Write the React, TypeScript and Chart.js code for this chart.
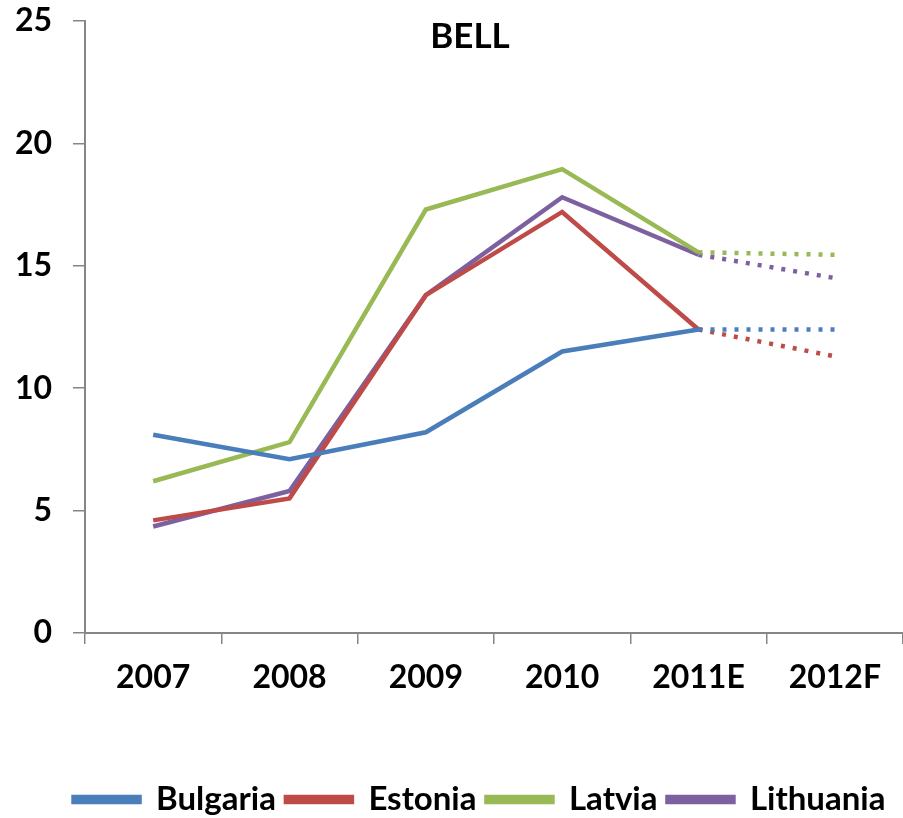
import React, { useEffect, useRef } from "react";
import { Chart, registerables } from "chart.js";

Chart.register(...registerables);

const categories = ["2007", "2008", "2009", "2010", "2011E", "2012F"];
const bulgaria = [8.1, 7.1, 8.2, 11.5, 12.4, 12.4];
const estonia = [4.6, 5.5, 13.8, 17.2, 12.4, 11.3];
const latvia = [6.2, 7.8, 17.3, 18.95, 15.55, 15.45];
const lithuania = [4.35, 5.8, 13.8, 17.8, 15.45, 14.5];
const seriesNames = ["Bulgaria", "Estonia", "Latvia", "Lithuania"];
const seriesColors = ["#4A7EBB", "#BE4B48", "#98B954", "#7D60A0"];
const yTicks = [0, 5, 10, 15, 20, 25];
const chartTitle = "BELL";
const forecastStartIndex = 4;

const FONT = "Lato, 'Open Sans', sans-serif";

export default function App() {
  const canvasRef = useRef<HTMLCanvasElement | null>(null);

  useEffect(() => {
    const canvas = canvasRef.current;
    if (!canvas) return;
    const values = [bulgaria, estonia, latvia, lithuania];

    const titlePlugin = {
      id: "innerTitle",
      afterDraw(chart: any) {
        const { ctx } = chart;
        ctx.save();
        ctx.font = `bold 35px ${FONT}`;
        ctx.fillStyle = "#000";
        ctx.textAlign = "center";
        ctx.textBaseline = "middle";
        ctx.fillText(chartTitle, 470, 37);
        ctx.restore();
      },
    };

    const legendShift = {
      id: "legendShift",
      afterLayout(chart: any) {
        if (chart.legend) {
          chart.legend.left += 52;
        }
      },
    };

    const chart = new Chart(canvas, {
      type: "line",
      data: {
        labels: categories,
        datasets: seriesNames.map((name, i) => ({
          label: name,
          data: values[i],
          borderColor: seriesColors[i],
          backgroundColor: seriesColors[i],
          borderWidth: 4.5,
          pointRadius: 0,
          pointHoverRadius: 0,
          tension: 0,
          fill: false,
          borderCapStyle: "butt" as const,
          borderJoinStyle: "miter" as const,
          segment: {
            borderDash: (ctx: any) =>
              ctx.p0DataIndex >= forecastStartIndex ? [4, 8] : undefined,
          },
        })),
      },
      options: {
        animation: false,
        responsive: false,
        maintainAspectRatio: false,
        layout: { padding: { top: 21, right: -4, bottom: -8, left: 0 } },
        plugins: {
          title: { display: false },
          tooltip: { enabled: false },
          legend: {
            display: true,
            position: "bottom",
            labels: {
              boxWidth: 66,
              boxHeight: 5,
              padding: 10,
              color: "#000",
              font: { family: FONT, size: 33, weight: "bold" },
            },
          },
        },
        scales: {
          x: {
            type: "category",
            offset: true,
            afterFit: (scale: any) => {
              scale.height = 140;
            },
            grid: {
              offset: true,
              drawOnChartArea: false,
              drawTicks: true,
              tickLength: 11,
              color: "#868686",
              lineWidth: 1.5,
            },
            border: { display: true, color: "#868686", width: 2 },
            ticks: {
              color: "#000",
              padding: 14,
              maxRotation: 0,
              autoSkip: false,
              font: { family: FONT, size: 32, weight: "bold" },
            },
          },
          y: {
            min: 0,
            max: 25,
            afterFit: (scale: any) => {
              scale.width = 85;
              scale.paddingTop = 0;
              scale.paddingBottom = 0;
            },
            afterBuildTicks: (scale: any) => {
              scale.ticks = yTicks.map((v) => ({ value: v }));
            },
            grid: {
              drawOnChartArea: false,
              drawTicks: true,
              tickLength: 12,
              color: "#868686",
              lineWidth: 1.5,
            },
            border: { display: true, color: "#868686", width: 2 },
            ticks: {
              color: "#000",
              padding: 21,
              font: { family: FONT, size: 32, weight: "bold" },
            },
          },
        },
      },
      plugins: [titlePlugin, legendShift],
    });

    return () => {
      chart.destroy();
    };
  }, []);

  return (
    <div style={{ position: "fixed", left: 0, top: 0, width: 903, height: 818, background: "#fff" }}>
      <canvas ref={canvasRef} width={903} height={818} style={{ display: "block", width: 903, height: 818 }} />
    </div>
  );
}
